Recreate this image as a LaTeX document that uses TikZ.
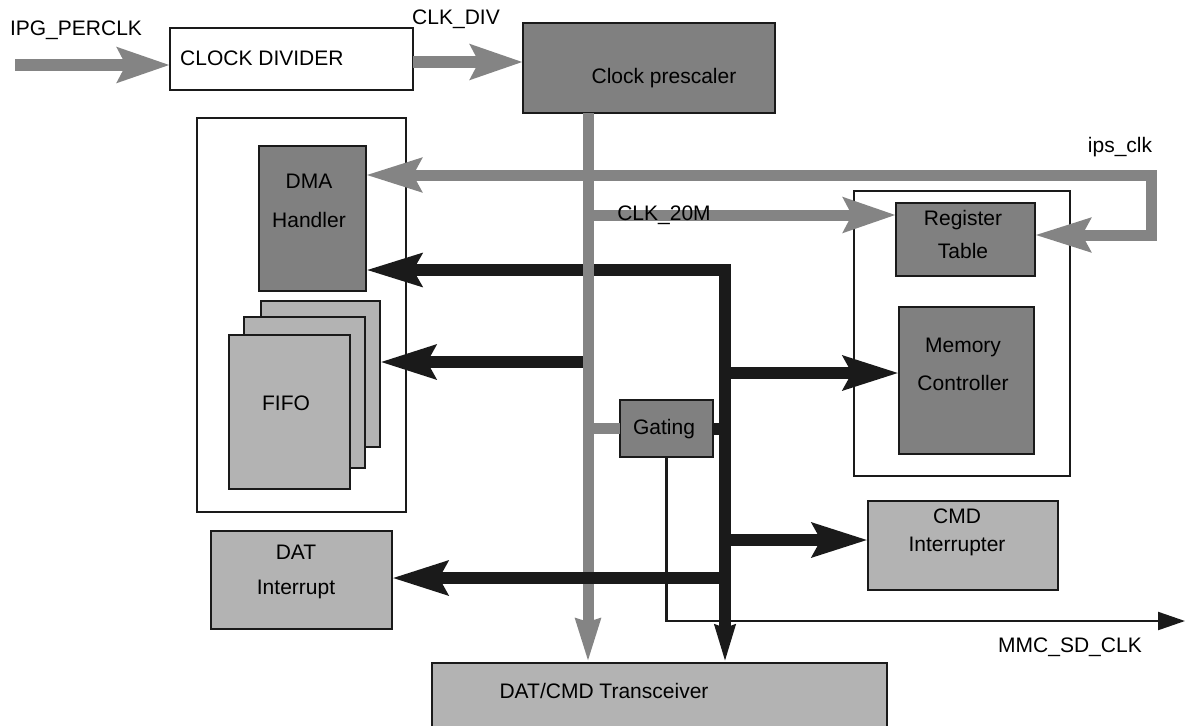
\documentclass[tikz,border=0pt]{standalone}
\usepackage{fontspec}
\setmainfont{Liberation Sans}
\usetikzlibrary{arrows.meta,calc}
\definecolor{darkfill}{HTML}{808080}
\definecolor{lightfill}{HTML}{B3B3B3}
\definecolor{busgray}{HTML}{848484}
\definecolor{busblack}{HTML}{1A1A1A}

\begin{document}
\begin{tikzpicture}[
        x=1pt, y=-1pt,
        every node/.style={font=\fontsize{21}{24}\selectfont, align=center, inner sep=0pt},
        blk/.style={draw=busblack, line width=1.8pt, anchor=north west, outer sep=0pt},
        boxframe/.style={blk, fill=white},
        boxdark/.style={blk, fill=darkfill},
        boxlight/.style={blk, fill=lightfill},
        gbus/.style={draw=busgray, line width=11pt},
        garrow/.style={gbus, -{Stealth[length=52pt, width=34pt, inset=8pt]}},
        gboth/.style={gbus, arrows={Stealth[length=55pt, width=33pt, inset=8pt]-Stealth[length=55pt, width=33pt, inset=8pt]}},
        gdown/.style={gbus, -{Stealth[length=43pt, width=23pt, inset=2pt]}},
        bbus/.style={draw=busblack, line width=12pt},
        barrow/.style={bbus, -{Stealth[length=55pt, width=33pt, inset=8pt]}},
        bmain/.style={bbus, arrows={Stealth[length=55pt, width=32pt, inset=8pt]-Stealth[length=37pt, width=19pt, inset=2pt]}},
        sig/.style={draw=busblack, line width=2.2pt, -{Triangle[length=27pt, width=18pt]}}
    ]
    \useasboundingbox (0,0) rectangle (1185,725);

    % outer frames
    \node[boxframe, minimum width=209, minimum height=394] (lframe) at (197,118) {};
    \node[boxframe, minimum width=216, minimum height=285] (rframe) at (854,191) {};

    % blocks
    \node[boxframe, minimum width=243, minimum height=62] (div) at (170,28) {};
    \node[boxdark, minimum width=252, minimum height=90] (pre) at (523,23) {};
    \node[boxdark, minimum width=107, minimum height=145] (dma) at (259,146) {};
    \node[boxlight, minimum width=119, minimum height=146] (fifoc) at (261,301) {};
    \node[boxlight, minimum width=121, minimum height=151] (fifob) at (244,317) {};
    \node[boxlight, minimum width=121, minimum height=154] (fifoa) at (229,335) {};
    \node[boxdark, minimum width=139, minimum height=73] (reg) at (896,203) {};
    \node[boxdark, minimum width=135, minimum height=147] (mem) at (899,307) {};
    \node[boxdark, minimum width=93, minimum height=57] (gate) at (620,400) {};
    \node[boxlight, minimum width=190, minimum height=89] (cmd) at (868,501) {};
    \node[boxlight, minimum width=181, minimum height=98] (dat) at (211,531) {};
    \node[boxlight, minimum width=455, minimum height=90] (trx) at (432,663) {};

    % bus lines
    \coordinate (gx) at (588,0);
    \coordinate (bx) at (725,0);
    \coordinate (in) at (15,65);
    \coordinate (ips) at (1151,175);
    \coordinate (mmc) at (1185,621);

    \draw[sig] (gate.south) |- (mmc);
    \draw[bmain] (dma.east |- 0,270) -| (trx.north -| bx);
    \draw[barrow] (gx |- 0,362) -- (fifoc.east |- 0,362);
    \draw[barrow] (bx |- 0,373) -- (mem.west |- 0,373);
    \draw[barrow] (bx |- 0,540) -- (cmd.west |- 0,540);
    \draw[bbus] (gate.east) -- (gate.east -| bx);

    \draw[garrow] (in) -- (in -| div.west);
    \draw[garrow] (div.east |- 0,62) -- (pre.west |- 0,62);
    \draw[gdown] (pre.south -| gx) -- (trx.north -| gx);
    \draw[gboth] (dma.east |- ips) -- (ips) |- (reg.east |- 0,235);
    \draw[garrow] (gx |- 0,215) -- (reg.west |- 0,215);
    \draw[gbus] (gx |- gate.west) -- (gate.west);

    \draw[barrow] (bx |- 0,578) -- (dat.east |- 0,578);

    % labels
    \node (t-in) at (76,30) {IPG\_PERCLK};
    \node[anchor=west] (t-div) at (180,58) {CLOCK DIVIDER};
    \node (t-clkdiv) at (456,19) {CLK\_DIV};
    \node (t-pre) at (664,78) {Clock prescaler};
    \node (t-dma) at (309,201) {DMA\\[15pt]Handler};
    \node (t-fifo) at (286,403) {FIFO};
    \node (t-ips) at (1120,147) {ips\_clk};
    \node (t-clk20) at (664,215) {CLK\_20M};
    \node (t-reg) at (963,234) {Register\\[9pt]Table};
    \node (t-mem) at (963,364) {Memory\\[14pt]Controller};
    \node (t-gate) at (664,429) {Gating};
    \node (t-cmd) at (957,532) {CMD\\[4pt]Interrupter};
    \node (t-dat) at (296,572) {DAT\\[11pt]Interrupt};
    \node (t-mmc) at (1070,647) {MMC\_SD\_CLK};
    \node (t-trx) at (604,691) {DAT/CMD Transceiver};
\end{tikzpicture}
\end{document}
